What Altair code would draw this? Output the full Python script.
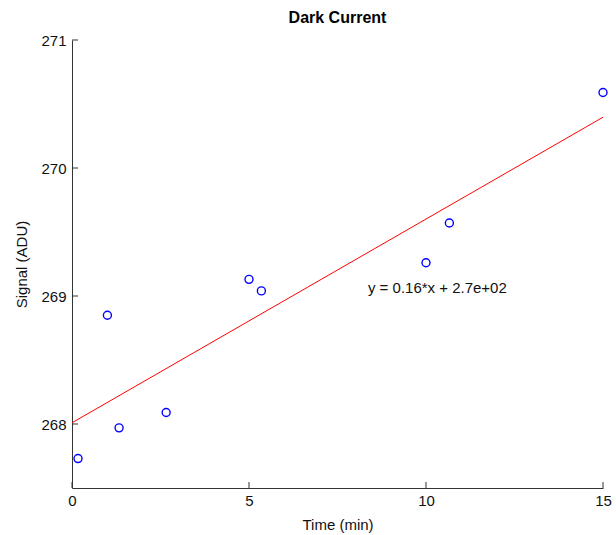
import altair as alt
import pandas as pd

time_min = [0.17, 1.0, 1.33, 2.66, 5.0, 5.35, 10.0, 10.66, 15.0]
signal_adu = [267.73, 268.85, 267.97, 268.09, 269.13, 269.04, 269.26, 269.57, 270.59]
x_ticks = [0, 5, 10, 15]
y_ticks = [268, 269, 270, 271]
fit_label = "y = 0.16*x + 2.7e+02"
fit_label_pos = (8.36, 269.06)

FONT = "Liberation Sans"
W, H = 531, 448

df = pd.DataFrame({"t": time_min, "s": signal_adu})
xs = alt.Scale(domain=[0, 15], nice=False, zero=False)
ys = alt.Scale(domain=[267.5, 271], nice=False, zero=False)

xaxis = alt.Axis(values=x_ticks, ticks=False, tickSize=0, grid=False, labelPadding=5,
                 labelFontSize=15, labelFont=FONT, labelColor="#111111",
                 titleFont=FONT, titleFontSize=15, titleFontWeight="normal", titleColor="#111111",
                 titlePadding=9, domainColor="#333333", format="d", labelFlush=False)
yaxis = alt.Axis(values=y_ticks, ticks=False, tickSize=0, grid=False, labelPadding=6,
                 labelFontSize=15, labelFont=FONT, labelColor="#111111",
                 titleFont=FONT, titleFontSize=15, titleFontWeight="normal", titleColor="#111111",
                 titlePadding=11, domainColor="#333333", format="d", labelFlush=False)

X = alt.X("t:Q", scale=xs, axis=xaxis, title="Time (min)")
Y = alt.Y("s:Q", scale=ys, axis=yaxis, title="Signal (ADU)")

points = alt.Chart(df).mark_point(shape="circle", filled=False, color="blue", size=64,
                                  strokeWidth=1.4, opacity=1).encode(x=X, y=Y)

fit = alt.Chart(df).transform_regression("t", "s", extent=[0, 15]).mark_line(
    color="red", strokeWidth=1).encode(x=X, y=Y)

label = alt.Chart(pd.DataFrame({"t": [fit_label_pos[0]], "s": [fit_label_pos[1]],
                                "txt": [fit_label]})).mark_text(
    align="left", baseline="middle", font=FONT, fontSize=15, color="#111111").encode(
    x=X, y=Y, text="txt:N")

yt = alt.Chart(pd.DataFrame({"s": y_ticks})).mark_rule(color="#333333", strokeWidth=1).encode(
    y=Y, x=alt.value(0), x2=alt.value(6))
xt = alt.Chart(pd.DataFrame({"t": x_ticks})).mark_rule(color="#333333", strokeWidth=1).encode(
    x=X, y=alt.value(H), y2=alt.value(H - 6))

chart = alt.layer(fit, points, label, yt, xt).properties(
    width=W, height=H,
    background="white",
    title=alt.TitleParams("Dark Current", font=FONT, fontSize=16, fontWeight="bold",
                          color="black", anchor="middle", offset=7),
    autosize=alt.AutoSizeParams(type="none"),
    padding={"left": 72, "top": 40, "right": 13, "bottom": 47},
).configure_view(stroke="transparent", strokeWidth=0)

chart.save("out.html", embed_options={"renderer": "svg", "actions": False})
